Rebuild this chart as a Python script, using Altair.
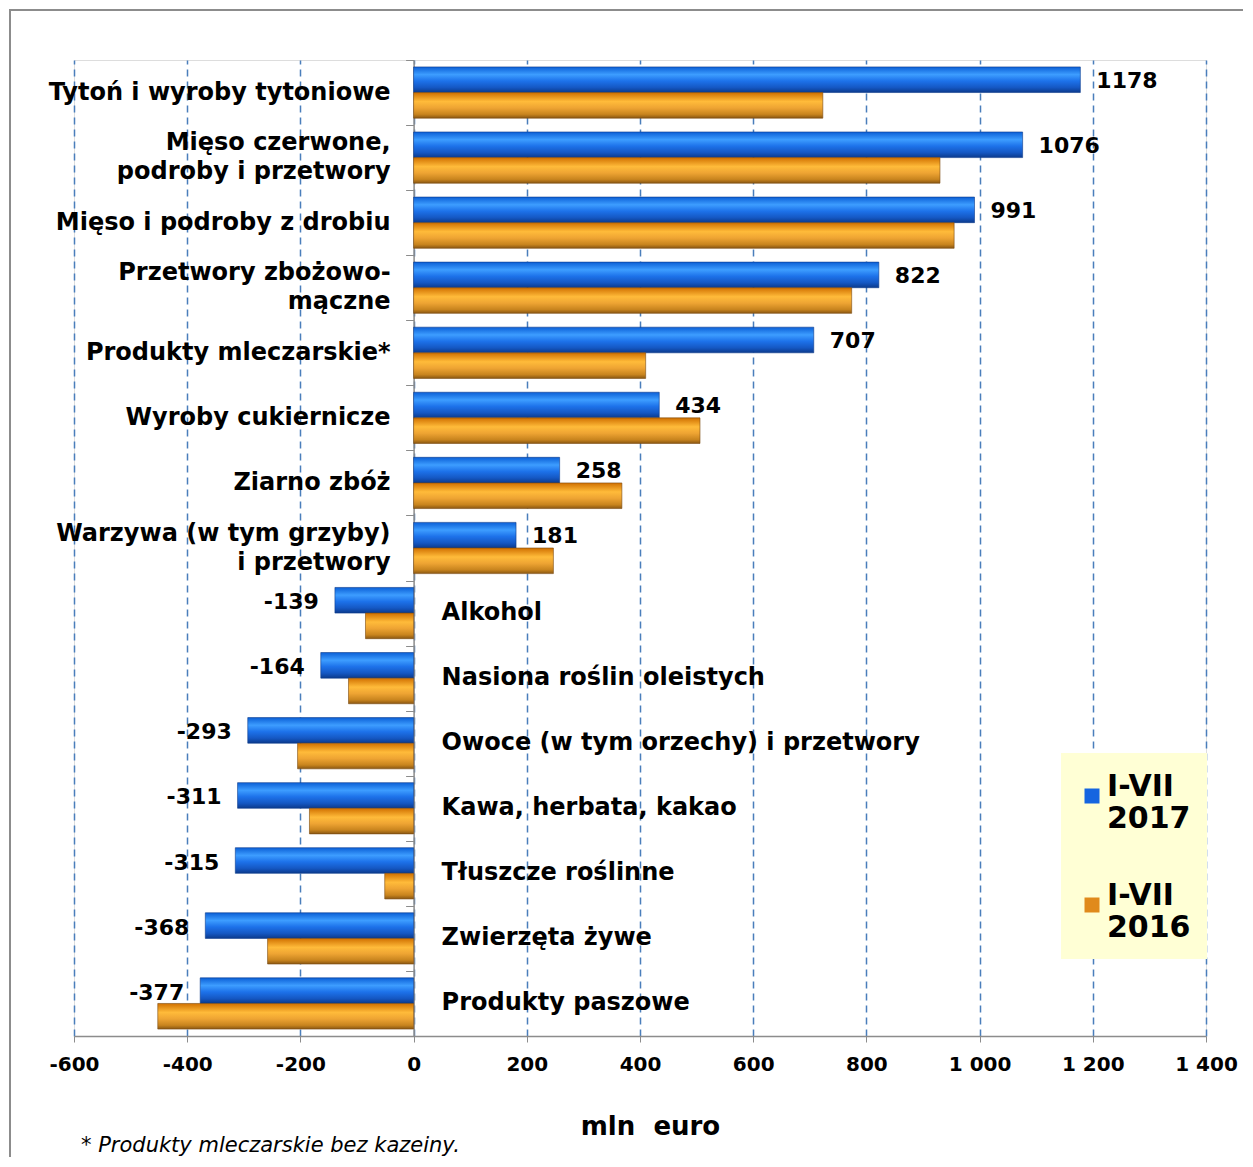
import altair as alt
import pandas as pd

categories = [
    "Tytoń i wyroby tytoniowe",
    "Mięso czerwone,\npodroby i przetwory",
    "Mięso i podroby z drobiu",
    "Przetwory zbożowo-\nmączne",
    "Produkty mleczarskie*",
    "Wyroby cukiernicze",
    "Ziarno zbóż",
    "Warzywa (w tym grzyby)\ni przetwory",
    "Alkohol",
    "Nasiona roślin oleistych",
    "Owoce (w tym orzechy) i przetwory",
    "Kawa, herbata, kakao",
    "Tłuszcze roślinne",
    "Zwierzęta żywe",
    "Produkty paszowe",
]
v2017 = [1178, 1076, 991, 822, 707, 434, 258, 181, -139, -164, -293, -311, -315, -368, -377]
v2016 = [723, 930, 955, 774, 410, 506, 368, 247, -85, -115, -205, -184, -51, -258, -452]
series = ["I-VII 2017", "I-VII 2016"]
x_ticks = [-600, -400, -200, 0, 200, 400, 600, 800, 1000, 1200, 1400]

rows = []
for c, a, b in zip(categories, v2017, v2016):
    rows.append({"cat": c, "series": series[0], "value": a, "ref": a})
    rows.append({"cat": c, "series": series[1], "value": b, "ref": a})
df = pd.DataFrame(rows)
cat_df = pd.DataFrame({
    "cat": categories,
    "ref": v2017,
    "nl": [c.count("\n") + 1 for c in categories],
})

FONT = "DejaVu Sans"

X = alt.X(
    "value:Q",
    scale=alt.Scale(domain=[-600, 1400], nice=False, zero=False),
    axis=alt.Axis(
        values=x_ticks,
        grid=True,
        gridDash=[7, 5],
        gridColor="#4a7ebb",
        gridWidth=1.5,
        domainColor="#8c8c8c",
        domainWidth=1.5,
        tickColor="#8c8c8c",
        tickSize=6,
        labelFont=FONT,
        labelFontSize=20,
        labelFontWeight="bold",
        labelColor="black",
        labelPadding=12,
        labelFlush=False,
        labelOverlap=False,
        labelExpr="replace(replace(format(datum.value, ',d'), ',', ' '), '\u2212', '-')",
        title="mln\u00a0\u00a0euro",
        titleFont=FONT,
        titleFontSize=26,
        titleFontWeight="bold",
        titleColor="black",
        titlePadding=39,
        titleX=576,
    ),
)
Y = alt.Y(
    "cat:N",
    sort=categories,
    scale=alt.Scale(domain=categories, paddingInner=0, paddingOuter=0),
    axis=alt.Axis(
        labels=False,
        title=None,
        grid=False,
        ticks=True,
        tickBand="extent",
        tickSize=8,
        tickColor="#8c8c8c",
        domainColor="#8c8c8c",
        domainWidth=1.5,
        offset=-339.6,
        orient="left",
    ),
)
YO = alt.YOffset(
    "series:N",
    sort=series,
    scale=alt.Scale(domain=series, paddingOuter=0.27, paddingInner=0),
)

blue_grad = alt.LinearGradient(
    gradient="linear", x1=0, y1=0, x2=0, y2=1,
    stops=[
        alt.GradientStop(offset=0, color="#0b5fd6"),
        alt.GradientStop(offset=0.3, color="#3d9dff"),
        alt.GradientStop(offset=0.55, color="#1d72ea"),
        alt.GradientStop(offset=0.8, color="#1558c4"),
        alt.GradientStop(offset=1, color="#0b3a8c"),
    ],
)
orange_grad = alt.LinearGradient(
    gradient="linear", x1=0, y1=0, x2=0, y2=1,
    stops=[
        alt.GradientStop(offset=0, color="#d07000"),
        alt.GradientStop(offset=0.35, color="#ffbb3a"),
        alt.GradientStop(offset=0.6, color="#eea433"),
        alt.GradientStop(offset=0.85, color="#c8841e"),
        alt.GradientStop(offset=1, color="#8a5712"),
    ],
)

base = alt.Chart(df)

frame = alt.Chart(cat_df.head(1)).mark_rect(
    fill=None, stroke="#8c8c8c", strokeWidth=2
).encode(
    x=alt.value(-64), x2=alt.value(1250), y=alt.value(-50), y2=alt.value(1112)
)

bars17 = base.transform_filter(alt.datum.series == series[0]).mark_bar(
    fill=blue_grad, stroke="#0b3a8c", strokeWidth=0.6
).encode(x=X, x2=alt.datum(0), y=Y, yOffset=YO)

bars16 = base.transform_filter(alt.datum.series == series[1]).mark_bar(
    fill=orange_grad, stroke="#7a4a10", strokeWidth=0.6
).encode(x=X, x2=alt.datum(0), y=Y, yOffset=YO)

legend_layer = base.mark_square(opacity=0, size=1).encode(
    x=X, y=Y, yOffset=YO,
    color=alt.Color(
        "series:N",
        sort=series,
        scale=alt.Scale(domain=series, range=["#1565e0", "#e08a1c"]),
        legend=alt.Legend(
            orient="none",
            legendX=987,
            legendY=693,
            title=" ",
            titleFontSize=10,
            titlePadding=2,
            fillColor="#ffffd5",
            padding=16,
            symbolType="square",
            symbolSize=225,
            symbolOpacity=1,
            symbolStrokeWidth=0,
            labelFont=FONT,
            labelFontSize=30,
            labelFontWeight="bold",
            labelColor="black",
            labelExpr="split(datum.label, ' ')",
            labelBaseline="alphabetic",
            labelLimit=300,
            rowPadding=47,
            labelOffset=0,
        ),
    ),
)

txt = dict(font=FONT, fontSize=24, fontWeight="bold", color="black",
           lineBreak="\n", lineHeight=29, baseline="middle")

cat_pos1 = alt.Chart(cat_df).transform_filter(
    (alt.datum.ref >= 0) & (alt.datum.nl == 1)
).mark_text(align="right", dx=-23, **txt).encode(x=alt.datum(0), y=Y, text="cat:N")

cat_pos2 = alt.Chart(cat_df).transform_filter(
    (alt.datum.ref >= 0) & (alt.datum.nl == 2)
).mark_text(align="right", dx=-23, dy=-14.5, **txt).encode(x=alt.datum(0), y=Y, text="cat:N")

cat_neg = alt.Chart(cat_df).transform_filter(alt.datum.ref < 0).mark_text(
    align="left", dx=28, **txt
).encode(x=alt.datum(0), y=Y, text="cat:N")

val_pos = base.transform_filter(
    (alt.datum.series == series[0]) & (alt.datum.value >= 0)
).transform_calculate(
    lbl="'' + datum.value"
).mark_text(
    align="left", baseline="middle", dx=16, dy=1, font=FONT, fontSize=22,
    fontWeight="bold", color="black",
).encode(x=X, y=Y, yOffset=YO, text="lbl:N")

val_neg = base.transform_filter(
    (alt.datum.series == series[0]) & (alt.datum.value < 0)
).transform_calculate(
    lbl="'' + datum.value"
).mark_text(
    align="right", baseline="middle", dx=-16, dy=2, font=FONT, fontSize=22,
    fontWeight="bold", color="black",
).encode(x=X, y=Y, yOffset=YO, text="lbl:N")

chart = alt.layer(
    frame, bars17, bars16, legend_layer, cat_pos1, cat_pos2, cat_neg, val_pos, val_neg
).properties(
    width=1132,
    height=976,
    autosize=alt.AutoSizeParams(type="none"),
    padding={"left": 66, "top": 52, "right": 37, "bottom": 121},
    title=alt.TitleParams(
        text="* Produkty mleczarskie bez kazeiny.",
        orient="bottom",
        anchor="start",
        font=FONT,
        fontSize=21,
        fontStyle="italic",
        fontWeight="normal",
        color="black",
        dx=72,
        offset=-38,
    ),
).configure_view(stroke=None).configure(background="white")

chart.save("out.html", embed_options={"renderer": "svg", "actions": False})
